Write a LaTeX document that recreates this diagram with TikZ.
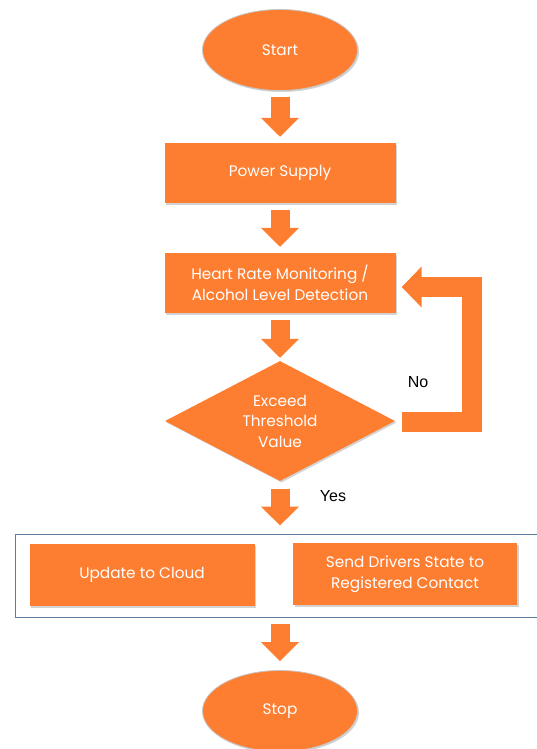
\documentclass[tikz,border=0pt]{standalone}
\usepackage{fontspec}
\setmainfont{Poppins}
\newfontfamily\labelfont{Liberation Sans}
\usetikzlibrary{shapes, arrows.meta, positioning, calc, shadows}
\definecolor{boxorange}{RGB}{253,126,49}
\definecolor{framegray}{RGB}{92,124,158}

\tikzset{
	base/.style={fill=boxorange, text=white, font=\fontsize{15.3}{20.5}\selectfont, align=center, inner sep=0pt,
		drop shadow={shadow xshift=1.5pt, shadow yshift=-1.5pt, opacity=0.35}},
	terminal/.style={base, ellipse, draw=gray!45, line width=0.8pt, minimum width=155, minimum height=81},
	process/.style={base, rectangle, minimum width=231, minimum height=60},
	decision/.style={base, diamond, shape aspect=1.92, minimum width=230, minimum height=120},
	frame/.style={draw=framegray, line width=1pt, minimum width=530, minimum height=83},
	flow/.style={draw=boxorange, line width=19pt, -{Triangle[width=37pt, length=19pt]}},
	loopback/.style={draw=boxorange, line width=20pt, -{Triangle[width=40pt, length=20pt]}},
	lbl/.style={font=\labelfont\fontsize{16}{19}\selectfont, text=black}
}

\begin{document}
\begin{tikzpicture}[x=1pt, y=-1pt]
		\useasboundingbox (0,0) rectangle (536,749);

		\node[terminal] (start) at (280,50) {Start};
		\node[process] (power) at (280,173) {Power Supply};
		\node[process] (heart) at (280,283) {Heart Rate Monitoring /\\Alcohol Level Detection};
		\node[decision] (decide) at (280,421) {Exceed\\Threshold\\Value};
		\node[frame] (group) at (280,575.5) {};
		\node[process, minimum width=225, minimum height=62] (cloud) at (142,575) {Update to Cloud};
		\node[process, minimum width=224, minimum height=62] (contact) at (405,574) {Send Drivers State to\\Registered Contact};
		\node[terminal] (stop) at (280,711) {Stop};

		\node[lbl] (no) at (418,382) {No};
		\node[lbl] (yes) at (333,496) {Yes};

		\draw[flow] ($(start.south)+(0,6)$) -- ($(power.north)+(0,-6)$);
		\draw[flow] ($(power.south)+(0,7)$) -- ($(heart.north)+(0,-6)$);
		\draw[flow] ($(heart.south)+(0,7)$) -- ($(decide.north)+(0,-3)$);
		\draw[flow] ($(decide.south)+(0,8)$) -- ($(group.north)+(0,-8)$);
		\draw[flow] ($(group.south)+(0,6)$) -- ($(stop.north)+(0,-9)$);

		\draw[loopback] ($(decide.east)+(7,1)$) -- ++(70,0) |- ($(heart.east)+(6,4)$);

	\end{tikzpicture}
\end{document}
